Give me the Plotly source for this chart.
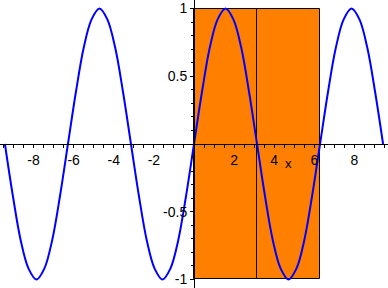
import plotly.graph_objects as go

# Curve samples (x in steps of pi/8 from -3*pi to 3*pi)
x_vals = [-9.425, -9.032, -8.639, -8.247, -7.854, -7.461, -7.069, -6.676,
          -6.283, -5.890, -5.498, -5.105, -4.712, -4.320, -3.927, -3.534,
          -3.142, -2.749, -2.356, -1.963, -1.571, -1.178, -0.785, -0.393,
          0.0, 0.393, 0.785, 1.178, 1.571, 1.963, 2.356, 2.749,
          3.142, 3.534, 3.927, 4.320, 4.712, 5.105, 5.498, 5.890,
          6.283, 6.676, 7.069, 7.461, 7.854, 8.247, 8.639, 9.032, 9.425]
y_vals = [0.0, -0.38, -0.71, -0.92, -1.0, -0.92, -0.71, -0.38,
          0.0, 0.38, 0.71, 0.92, 1.0, 0.92, 0.71, 0.38,
          0.0, -0.38, -0.71, -0.92, -1.0, -0.92, -0.71, -0.38,
          0.0, 0.38, 0.71, 0.92, 1.0, 0.92, 0.71, 0.38,
          0.0, -0.38, -0.71, -0.92, -1.0, -0.92, -0.71, -0.38,
          0.0, 0.38, 0.71, 0.92, 1.0, 0.92, 0.71, 0.38, 0.0]

# Rectangles (left, right, bottom, top)
rect_left = [0.0, 3.1416]
rect_right = [3.1416, 6.2832]
rect_bottom = [-1.0, -1.0]
rect_top = [1.0, 1.0]

x_tickvals = [-8, -6, -4, -2, 2, 4, 6, 8]
x_ticktext = ["-8", "-6", "-4", "-2", "2", "4", "6", "8"]
y_tickvals = [-1, -0.5, 0.5, 1]
y_ticktext = ["-1", "-0.5", "0.5", "1"]

FONT = "Liberation Sans, Arial, sans-serif"
TICKFONT = dict(family=FONT, size=14, color="black")

fig = go.Figure()
fig.add_trace(go.Bar(
    x=[(l + r) / 2 for l, r in zip(rect_left, rect_right)],
    y=[t - b for b, t in zip(rect_bottom, rect_top)],
    base=rect_bottom,
    width=[r - l for l, r in zip(rect_left, rect_right)],
    marker=dict(color="#FF8000", line=dict(color="black", width=1)),
    hoverinfo="skip", showlegend=False,
))
fig.add_trace(go.Scatter(
    x=x_vals, y=y_vals, mode="lines",
    line=dict(color="#0000FF", width=2, shape="spline", smoothing=1.0),
    showlegend=False,
))

fig.add_annotation(x=4.7, y=-0.145, text="x", showarrow=False,
                   font=dict(family=FONT, size=13, color="black"))

fig.update_layout(
    width=388, height=288,
    margin=dict(l=0, r=0, t=0, b=0),
    paper_bgcolor="white", plot_bgcolor="white",
    font=dict(family=FONT, size=14, color="black"),
    bargap=0,
    xaxis=dict(
        range=[-9.67, 9.67], anchor="free", position=0.5,
        showgrid=False, zeroline=False, showline=True,
        linecolor="black", linewidth=1,
        tickmode="array", tickvals=x_tickvals, ticktext=x_ticktext,
        tickfont=TICKFONT,
        ticks="outside", ticklen=3, tickcolor="black",
        minor=dict(dtick=0.5, tick0=0, ticks="outside", ticklen=3, tickcolor="black"),
    ),
    yaxis=dict(
        range=[-1.063, 1.063], anchor="free", position=0.5,
        showgrid=False, zeroline=False, showline=True,
        linecolor="black", linewidth=1,
        tickmode="array", tickvals=y_tickvals, ticktext=y_ticktext,
        tickfont=TICKFONT,
        ticks="outside", ticklen=4, tickcolor="black",
        minor=dict(dtick=0.1, tick0=0, ticks="outside", ticklen=3, tickcolor="black"),
    ),
)

fig.write_html("out.html")
